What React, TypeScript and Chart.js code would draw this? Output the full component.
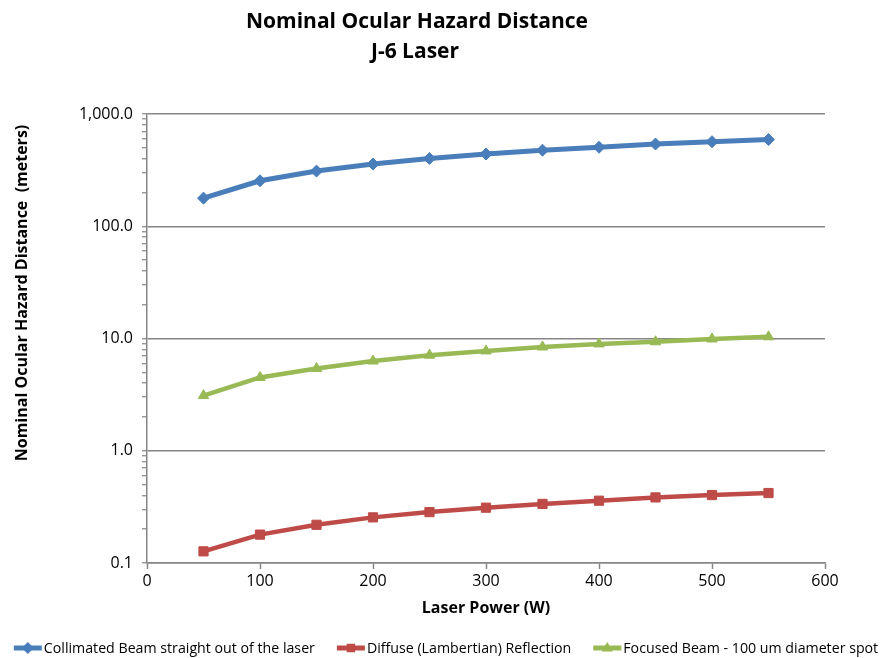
import React, { useEffect, useRef } from "react";
import { Chart, registerables } from "chart.js";

Chart.register(...registerables);

const titleLines = ["Nominal Ocular Hazard Distance", "J-6 Laser"];
const xAxisTitle = "Laser Power (W)";
const yAxisTitle = "Nominal Ocular Hazard Distance  (meters)";

const laserPower = [50, 100, 150, 200, 250, 300, 350, 400, 450, 500, 550];
const collimated = [178, 254, 310, 358, 402, 440, 476, 506, 540, 566, 592];
const diffuse = [0.127, 0.179, 0.219, 0.255, 0.284, 0.311, 0.336, 0.359, 0.384, 0.403, 0.42];
const focused = [3.1, 4.5, 5.4, 6.3, 7.1, 7.75, 8.4, 8.95, 9.35, 9.9, 10.35];

const seriesNames = [
  "Collimated Beam straight out of the laser",
  "Diffuse (Lambertian) Reflection",
  "Focused Beam - 100 um diameter spot",
];
const seriesColors = ["#4A7EBB", "#BE4B48", "#98B954"];
const seriesMarkers = ["rectRot", "rect", "triangle"];

const yMajorValues = [0.1, 1, 10, 100, 1000];
const yMajorLabels = ["0.1", "1.0", "10.0", "100.0", "1,000.0"];
const xMin = 0;
const xMax = 600;
const xStep = 100;

const AXIS_COLOR = "#868686";
const FONT = "'Open Sans', 'Liberation Sans', sans-serif";

function isDecade(v: number) {
  const l = Math.log10(v);
  return Math.abs(l - Math.round(l)) < 1e-6;
}

function drawMarker(ctx: CanvasRenderingContext2D, kind: string, x: number, y: number, r: number) {
  ctx.beginPath();
  if (kind === "rectRot") {
    ctx.moveTo(x, y - r);
    ctx.lineTo(x + r, y);
    ctx.lineTo(x, y + r);
    ctx.lineTo(x - r, y);
  } else if (kind === "rect") {
    const s = r * Math.SQRT1_2;
    ctx.rect(x - s, y - s, 2 * s, 2 * s);
  } else {
    ctx.moveTo(x, y - r);
    ctx.lineTo(x + r * 0.95, y + r * 0.6);
    ctx.lineTo(x - r * 0.95, y + r * 0.6);
  }
  ctx.closePath();
  ctx.fill();
}

const decorPlugin = {
  id: "decor",
  afterDraw(chart: any) {
    const ctx: CanvasRenderingContext2D = chart.ctx;
    const area = chart.chartArea;
    ctx.save();
    ctx.fillStyle = "#000";
    ctx.textAlign = "center";
    ctx.textBaseline = "middle";
    // main title
    ctx.font = `bold 21px ${FONT}`;
    ctx.fillText(titleLines[0], 417, 22);
    ctx.fillText(titleLines[1], 415, 52);
    // x axis title
    ctx.font = `bold 16px ${FONT}`;
    ctx.fillText(xAxisTitle, (area.left + area.right) / 2, 608);
    // y axis title
    ctx.save();
    ctx.translate(22, 293);
    ctx.rotate(-Math.PI / 2);
    ctx.fillText(yAxisTitle, 0, 0);
    ctx.restore();
    // legend
    ctx.font = `14.2px ${FONT}`;
    ctx.textAlign = "left";
    const lineLen = 28;
    const gapText = 2;
    const gapItem = 22;
    const widths = seriesNames.map((n) => ctx.measureText(n).width);
    const total = widths.reduce((a, w) => a + lineLen + gapText + w, 0) + gapItem * (seriesNames.length - 1);
    let x = 446 - total / 2;
    const ly = 648;
    seriesNames.forEach((name, i) => {
      ctx.strokeStyle = seriesColors[i];
      ctx.fillStyle = seriesColors[i];
      ctx.lineWidth = 5;
      ctx.beginPath();
      ctx.moveTo(x, ly);
      ctx.lineTo(x + lineLen, ly);
      ctx.stroke();
      drawMarker(ctx, seriesMarkers[i], x + lineLen / 2, ly, 6);
      ctx.fillStyle = "#000";
      ctx.fillText(name, x + lineLen + gapText, ly + 1);
      x += lineLen + gapText + widths[i] + gapItem;
    });
    ctx.restore();
  },
};

export default function App() {
  const ref = useRef<HTMLCanvasElement | null>(null);

  useEffect(() => {
    document.body.style.margin = "0";
    const canvas = ref.current;
    if (!canvas) return;
    const seriesValues = [collimated, diffuse, focused];
    const chart = new Chart(canvas, {
      type: "line",
      data: {
        datasets: seriesValues.map((vals, i) => ({
          label: seriesNames[i],
          data: laserPower.map((p, j) => ({ x: p, y: vals[j] })),
          borderColor: seriesColors[i],
          backgroundColor: seriesColors[i],
          borderWidth: i === 0 ? 5 : 4.5,
          pointStyle: seriesMarkers[i] as any,
          pointRadius: i === 1 ? 6.5 : 6,
          pointBorderWidth: 1,
          pointHoverRadius: 6,
          tension: 0,
          fill: false,
        })),
      },
      options: {
        animation: false,
        responsive: false,
        devicePixelRatio: 1,
        layout: { padding: { top: 114, right: 58, bottom: 0, left: 0 } },
        plugins: {
          legend: { display: false },
          title: { display: false },
          tooltip: { enabled: false },
        },
        scales: {
          x: {
            type: "linear",
            min: xMin,
            max: xMax,
            ticks: {
              stepSize: xStep,
              color: "#000",
              font: { family: FONT, size: 16 },
              padding: 3,
              maxRotation: 0,
            },
            grid: {
              drawOnChartArea: false,
              drawTicks: true,
              tickLength: 6,
              tickColor: AXIS_COLOR,
              tickWidth: 1.5,
            },
            border: { display: true, color: AXIS_COLOR, width: 1.5 },
            afterFit: (s: any) => {
              s.height = 95;
            },
          },
          y: {
            type: "logarithmic",
            min: 0.1,
            max: 1000,
            afterBuildTicks: (s: any) => {
              const vals: number[] = [];
              for (let k = 0; k < yMajorValues.length - 1; k++) {
                for (let m = 1; m <= 9; m++) vals.push(m * yMajorValues[k]);
              }
              vals.push(yMajorValues[yMajorValues.length - 1]);
              s.ticks = vals.map((v) => ({ value: v, major: isDecade(v) }));
            },
            ticks: {
              autoSkip: false,
              color: "#000",
              font: { family: FONT, size: 16 },
              padding: 9,
              callback: (v: any) => {
                const idx = yMajorValues.findIndex((m) => Math.abs(m - Number(v)) / m < 1e-6);
                return idx >= 0 ? yMajorLabels[idx] : "";
              },
            },
            grid: {
              color: (c: any) => (c.tick && isDecade(c.tick.value) ? AXIS_COLOR : "rgba(0,0,0,0)"),
              lineWidth: 1.5,
              drawTicks: true,
              tickLength: 5,
              tickColor: AXIS_COLOR,
              tickWidth: 1.2,
            },
            border: { display: true, color: AXIS_COLOR, width: 1.5 },
            afterFit: (s: any) => {
              s.width = 147;
            },
          },
        },
      },
      plugins: [decorPlugin],
    });
    return () => chart.destroy();
  }, []);

  return (
    <div style={{ width: 883, height: 658 }}>
      <canvas ref={ref} width={883} height={658} style={{ display: "block" }} />
    </div>
  );
}
